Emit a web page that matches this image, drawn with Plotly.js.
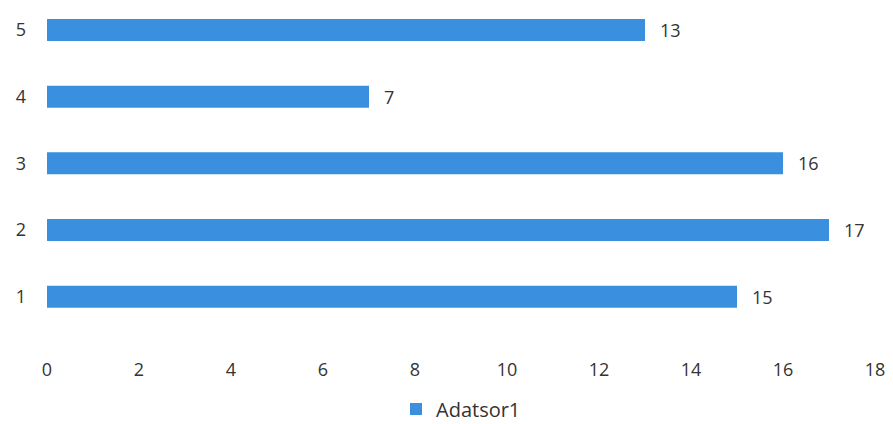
<!DOCTYPE html>
<html>
<head>
<meta charset="utf-8">
<script src="https://cdn.plot.ly/plotly-3.0.1.min.js"></script>
<style>html,body{margin:0;padding:0;background:#fff;}#chart{width:893px;height:424px;}</style>
</head>
<body>
<div id="chart"></div>
<script>
const categories = [1, 2, 3, 4, 5];
const values = [15, 17, 16, 7, 13];
const seriesName = "Adatsor1";
const xTicks = [0, 2, 4, 6, 8, 10, 12, 14, 16, 18];

const FONT = 'Open Sans, Lato, sans-serif';
const trace = {
  type: 'bar',
  orientation: 'h',
  y: categories,
  x: values,
  name: seriesName,
  width: 0.33,
  marker: {color: '#3a8fde'},
  showlegend: true
};

const labels = categories.map((c, i) => ({
  x: values[i], y: c, xref: 'x', yref: 'y',
  text: String(values[i]), showarrow: false,
  xanchor: 'left', yanchor: 'middle', xshift: 13,
  font: {family: FONT, size: 18, color: '#333333'}
}));

const layout = {
  width: 893, height: 424,
  margin: {l: 47, r: 18, t: 0, b: 94, autoexpand: false},
  paper_bgcolor: '#ffffff', plot_bgcolor: '#ffffff',
  font: {family: FONT, size: 18, color: '#333333'},
  xaxis: {
    range: [0, 18], tickvals: xTicks, ticktext: xTicks.map(String),
    showgrid: false, zeroline: false, showline: false,
    ticks: '', ticklabelstandoff: 27
  },
  yaxis: {
    range: [0.5, 5.45], tickvals: categories, ticktext: categories.map(String),
    showgrid: false, zeroline: false, showline: false,
    ticks: '', ticklabelstandoff: 20
  },
  annotations: labels,
  showlegend: true,
  legend: {orientation: 'h', x: 0.5, xanchor: 'center', y: -0.18, yanchor: 'top',
           font: {size: 20, color: '#333333'}, itemwidth: 30}
};

Plotly.newPlot('chart', [trace], layout, {displayModeBar: false, staticPlot: true});
</script>
</body>
</html>
